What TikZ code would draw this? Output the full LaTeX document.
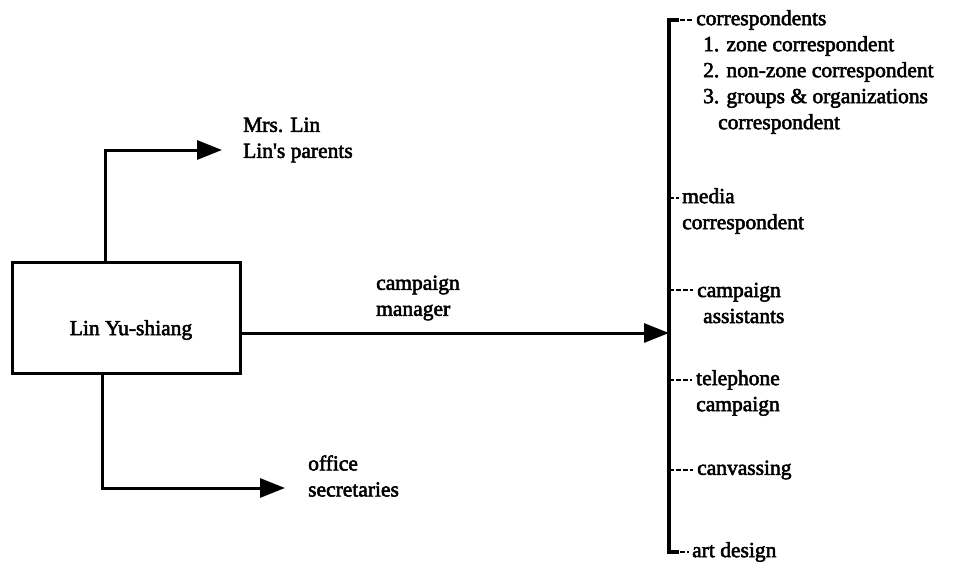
\documentclass[tikz,border=0pt]{standalone}
\usepackage{fontspec}
\setmainfont{Liberation Serif}[FakeBold=2.5]
\usetikzlibrary{arrows.meta}
\begin{document}
\begin{tikzpicture}[x=1pt,y=-1pt,
  every node/.style={font=\fontsize{21.5}{26}\selectfont, inner sep=0pt},
  lbl/.style={align=left, anchor=west},
  person/.style={draw, line width=3pt, minimum width=228pt, minimum height=111pt},
  arr/.style={line width=3pt, -{Triangle[length=25pt,width=19pt]}},
  bus/.style={line width=3.5pt},
  tick/.style={line width=2pt, dash pattern=on 5pt off 2pt}]
\useasboundingbox (0,0) rectangle (956,570);

% candidate box
\node[person] (lys) at (126,317.5) {};
\node (lysname) at (131,330) {Lin Yu-shiang};

% family branch
\node[lbl] (fam) at (243,140) {Mrs. Lin\\Lin\textquotesingle s parents};
\coordinate (famtip) at (222,150);
\draw[arr] ([xshift=-21pt]lys.north) |- (famtip);

% campaign manager branch
\node[lbl] (mgr) at (376,298) {campaign\\manager};
\coordinate (hub) at (669,333);
\draw[arr] (lys.east |- hub) -- (hub);

% office branch
\node[lbl] (sec) at (308,476) {office\\secretaries};
\coordinate (sectip) at (285,488);
\draw[arr] ([xshift=-24pt]lys.south) |- (sectip);

% staff under the campaign manager
\node[lbl] (corr) at (696,72) {correspondents\\
  \hspace*{7pt}1. zone correspondent\\
  \hspace*{7pt}2. non-zone correspondent\\
  \hspace*{7pt}3. groups \& organizations\\
  \hspace*{22pt}correspondent};
\node[lbl] (media) at (682,211) {media\\correspondent};
\node[lbl] (asst) at (697,303) {campaign\\\hspace*{6pt}assistants};
\node[lbl] (tel) at (696,393) {telephone\\campaign};
\node[lbl] (canv) at (697,470) {canvassing};
\node[lbl] (art) at (692,552) {art design};

% vertical bus with its branch ticks
\coordinate (bustop) at (669,20);
\coordinate (busbot) at (669,552);
\coordinate (tmedia) at (669,198);
\coordinate (tasst) at (669,290);
\coordinate (ttel) at (669,380);
\coordinate (tcanv) at (669,470);
\draw[bus] ([xshift=10pt]bustop) -- (bustop) -- (busbot) -- ([xshift=10pt]busbot);
\draw[tick] ([xshift=11pt]bustop) -- ([xshift=-4pt]bustop -| corr.west);
\draw[tick] ([xshift=11pt]busbot) -- ([xshift=-3pt]busbot -| art.west);
\draw[tick] (tmedia) -- ([xshift=-3pt]tmedia -| media.west);
\draw[tick] (tasst) -- ([xshift=-4pt]tasst -| asst.west);
\draw[tick] (ttel) -- ([xshift=-4pt]ttel -| tel.west);
\draw[tick] (tcanv) -- ([xshift=-4pt]tcanv -| canv.west);
\end{tikzpicture}
\end{document}
